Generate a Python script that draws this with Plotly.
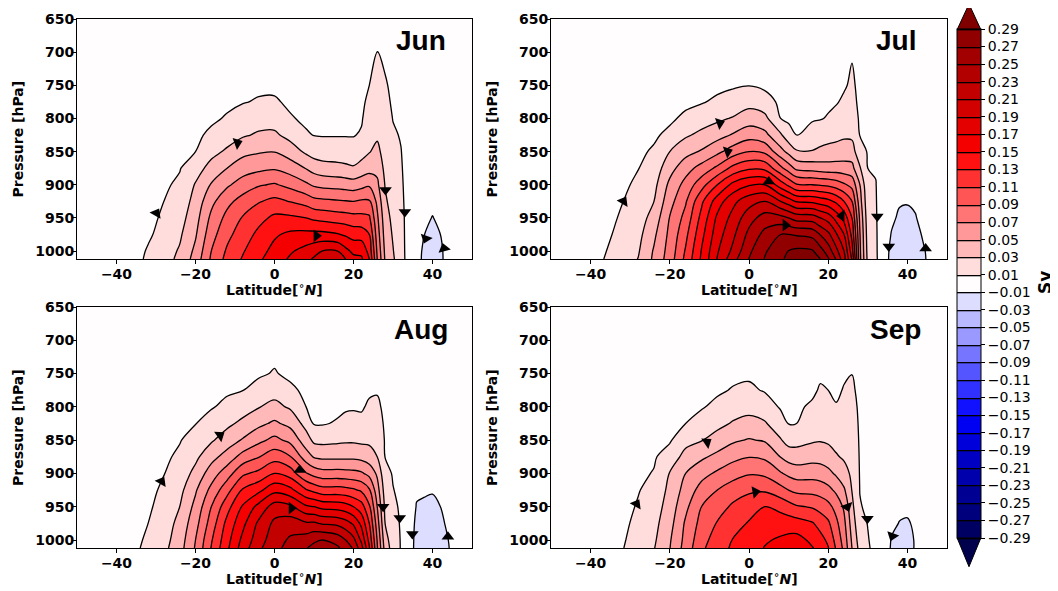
import numpy as np
import plotly.graph_objects as go

# ---------------- data (stream function, in units of 0.01 Sv) ----------------
LATS = [-50, -40, -36, -32, -28, -24, -20, -16, -12, -8, -4, 0, 4, 8, 10, 12, 16, 18, 20,
        22, 24, 26, 28, 30, 32, 34, 36, 38, 40, 42, 44, 46, 50]
PRESSURE = [650, 700, 750, 775, 800, 825, 850, 875, 900, 925, 950, 975, 1000, 1012]
MONTHS = ["Jun", "Jul", "Aug", "Sep"]

# one profile (top -> surface) per latitude in LATS
JUN = [
    [0, 0, 0, 0, 0, 0, 0, 0, 0, 0, 0, 0, 0, 0],
    [0, 0, 0, 0, 0, 0, 0, 0, 0, 0, 0, 0, 0, 0],
    [0, 0, 0, 0, 0, 0, 0, 0, 0, 0, 0, 0.05, 0.08, 0.1],
    [0, 0, 0, 0, 0, 0, 0, 0, 0.1, 0.2, 0.4, 0.7, 1.2, 1.4],
    [0, 0, 0, 0, 0.05, 0.15, 0.3, 0.5, 0.75, 1.0, 1.35, 1.7, 2.1, 2.3],
    [0, 0, 0, 0.05, 0.15, 0.35, 0.6, 0.9, 1.3, 1.75, 2.2, 2.7, 3.2, 3.4],
    [0, 0, 0.04, 0.12, 0.3, 0.6, 1.0, 2.16, 3.15, 3.7, 4.24, 4.78, 5.45, 5.8],
    [0, 0.05, 0.2, 0.4, 0.65, 1.41, 2.43, 3.67, 5.16, 6.47, 7.46, 8.23, 9.0, 9.3],
    [0, 0.1, 0.35, 0.6, 1.2, 2.18, 3.28, 5.0, 6.67, 8.43, 9.6, 10.47, 11.27, 11.6],
    [0, 0.2, 0.55, 0.9, 1.83, 2.77, 4.46, 6.09, 7.91, 9.79, 11.17, 12.0, 12.83, 13.2],
    [0, 0.25, 0.65, 1.16, 2.16, 3.25, 4.81, 6.52, 8.8, 10.84, 12.39, 13.49, 14.31, 14.7],
    [0, 0.25, 0.65, 1.2, 2.2, 3.32, 4.94, 6.78, 9.19, 11.52, 13.42, 14.74, 15.56, 15.9],
    [0, 0.15, 0.45, 0.7, 1.15, 2.37, 4.0, 6.08, 8.4, 10.9, 13.38, 15.42, 16.74, 17.3],
    [0, 0.1, 0.3, 0.45, 0.7, 1.18, 2.65, 4.9, 7.35, 10.22, 13.0, 15.57, 17.73, 18.6],
    [0, 0.05, 0.25, 0.4, 0.65, 0.95, 2.1, 4.2, 6.7, 9.6, 12.6, 15.6, 18.4, 19.2],
    [0, 0.05, 0.25, 0.4, 0.6, 0.9, 2.0, 3.8, 6.44, 9.44, 12.38, 15.57, 19.0, 19.6],
    [0, 0.05, 0.25, 0.4, 0.6, 0.9, 1.94, 3.57, 6.25, 9.21, 12.0, 15.14, 19.0, 19.4],
    [0, 0.05, 0.25, 0.4, 0.6, 0.9, 1.9, 3.4, 6.1, 9.1, 11.9, 14.7, 17.6, 19.0],
    [0, 0.05, 0.25, 0.4, 0.6, 0.9, 1.85, 3.2, 5.93, 9.0, 11.67, 14.2, 16.5, 17.6],
    [0, 0.1, 0.4, 0.55, 0.8, 1.2, 2.28, 3.7, 6.33, 9.26, 11.59, 14.13, 16.5, 17.3],
    [0, 0.4, 1.0, 1.5, 2.0, 2.45, 2.9, 4.2, 6.7, 9.26, 11.33, 13.0, 14.3, 15.0],
    [0, 1.05, 1.5, 1.8, 2.2, 2.7, 3.5, 4.43, 5.44, 6.56, 7.39, 8.04, 8.7, 9.0],
    [0, 0.6, 1.2, 1.45, 1.7, 1.95, 2.2, 2.5, 2.9, 3.3, 3.8, 4.2, 4.6, 4.8],
    [0, 0.3, 0.6, 0.75, 0.95, 1.2, 1.45, 1.7, 1.95, 2.2, 2.5, 2.8, 3.1, 3.3],
    [0, 0.2, 0.45, 0.6, 0.75, 0.9, 1.05, 1.15, 1.25, 1.35, 1.45, 1.5, 1.55, 1.6],
    [0, 0.05, 0.15, 0.2, 0.25, 0.3, 0.33, 0.35, 0.37, 0.38, 0.4, 0.4, 0.4, 0.4],
    [0, 0, 0, 0, 0, 0, 0, 0, 0, -0.05, -0.1, -0.2, -0.3, -0.3],
    [0, 0, 0, 0, 0, 0, 0, 0, -0.1, -0.4, -0.7, -1.0, -1.4, -1.5],
    [0, 0, 0, 0, 0, 0, 0, -0.1, -0.3, -0.7, -1.05, -1.4, -1.7, -1.8],
    [0, 0, 0, 0, 0, 0, 0, 0, -0.1, -0.35, -0.7, -1.0, -1.3, -1.35],
    [0, 0, 0, 0, 0, 0, 0, 0, 0, 0, -0.1, -0.2, -0.3, -0.3],
    [0, 0, 0, 0, 0, 0, 0, 0, 0, 0, 0, 0, 0, 0],
    [0, 0, 0, 0, 0, 0, 0, 0, 0, 0, 0, 0, 0, 0],
]

JUL = [
    [0, 0, 0, 0, 0, 0, 0, 0, 0, 0, 0, 0, 0, 0],
    [0, 0, 0, 0, 0, 0, 0, 0, 0, 0, 0.1, 0.15, 0.25, 0.3],
    [0, 0, 0, 0, 0, 0, 0.05, 0.1, 0.2, 0.3, 0.45, 0.7, 1.0, 1.14],
    [0, 0, 0, 0.05, 0.1, 0.2, 0.35, 0.5, 0.7, 0.95, 1.25, 1.55, 1.9, 2.1],
    [0, 0, 0.07, 0.15, 0.3, 0.45, 0.7, 0.95, 1.3, 1.65, 2.0, 2.4, 2.8, 3.05],
    [0, 0.02, 0.1, 0.25, 0.45, 0.75, 1.2, 1.85, 2.4, 3.0, 3.8, 4.6, 5.2, 5.35],
    [0, 0.05, 0.2, 0.4, 0.7, 1.4, 3.0, 4.25, 5.5, 6.3, 7.1, 7.5, 7.8, 8.0],
    [0, 0.1, 0.35, 0.6, 1.38, 2.73, 4.33, 6.2, 7.67, 8.78, 9.67, 10.5, 11.2, 11.5],
    [0, 0.15, 0.45, 0.85, 2.08, 3.47, 5.2, 7.74, 10.2, 12.6, 13.6, 14.4, 15.1, 15.3],
    [0, 0.2, 0.55, 1.35, 2.6, 4.26, 6.5, 9.43, 13.0, 16.0, 17.4, 18.1, 18.8, 19.1],
    [0, 0.25, 0.8, 1.72, 3.16, 5.2, 8.0, 11.6, 15.6, 18.5, 19.7, 20.6, 21.5, 22.3],
    [0, 0.3, 0.95, 2.33, 3.98, 6.2, 9.0, 12.7, 16.8, 20.2, 22.2, 23.55, 24.6, 25.05],
    [0, 0.2, 0.6, 1.84, 3.5, 5.56, 8.6, 12.5, 17.0, 21.0, 23.9, 25.6, 26.8, 27.1],
    [0, 0.1, 0.4, 0.6, 1.0, 3.26, 5.67, 9.5, 14.0, 19.0, 23.67, 27.0, 28.2, 28.7],
    [0, 0.05, 0.25, 0.4, 0.65, 1.8, 4.43, 8.0, 12.6, 18.0, 23.0, 27.0, 29.05, 29.4],
    [0, 0.05, 0.2, 0.35, 0.55, 0.9, 3.22, 6.5, 11.2, 16.8, 22.2, 26.8, 29.4, 30.0],
    [0, 0.1, 0.35, 0.55, 0.8, 1.8, 3.1, 6.2, 11.0, 16.6, 22.0, 26.4, 29.2, 29.8],
    [0, 0.1, 0.4, 0.6, 0.9, 2.05, 3.4, 6.0, 10.8, 16.1, 21.0, 24.9, 27.8, 29.0],
    [0, 0.15, 0.45, 0.7, 1.14, 2.27, 3.62, 5.83, 10.6, 15.6, 20.2, 23.5, 26.1, 27.2],
    [0, 0.2, 0.55, 0.85, 1.6, 2.5, 3.7, 5.9, 10.1, 14.6, 18.3, 21.3, 23.6, 24.9],
    [0, 0.4, 0.8, 1.3, 2.0, 2.7, 3.9, 5.8, 9.3, 13.0, 16.3, 19.0, 21.0, 21.7],
    [0, 0.85, 1.3, 1.5, 1.8, 2.6, 3.9, 5.6, 8.4, 11.0, 13.0, 14.4, 15.9, 16.8],
    [0, 0.3, 0.55, 0.65, 0.8, 0.95, 1.6, 3.2, 5.0, 5.8, 6.6, 7.1, 7.35, 7.5],
    [0, 0.2, 0.4, 0.5, 0.6, 0.75, 0.9, 1.0, 1.3, 1.6, 1.9, 2.15, 2.35, 2.5],
    [0, 0.15, 0.3, 0.4, 0.5, 0.6, 0.75, 0.9, 1.05, 1.1, 1.15, 1.2, 1.22, 1.25],
    [0, 0.05, 0.1, 0.1, 0.12, 0.15, 0.15, 0.15, 0.15, 0.1, 0.05, 0, 0, 0],
    [0, 0, 0, 0, 0, 0, 0, 0, -0.2, -0.4, -0.7, -1.1, -1.5, -1.6],
    [0, 0, 0, 0, 0, 0, 0, -0.2, -0.5, -0.85, -1.25, -1.6, -1.9, -2.0],
    [0, 0, 0, 0, 0, 0, -0.05, -0.2, -0.5, -0.9, -1.35, -1.75, -2.0, -2.05],
    [0, 0, 0, 0, 0, 0, 0, -0.1, -0.4, -0.75, -1.1, -1.45, -1.7, -1.75],
    [0, 0, 0, 0, 0, 0, 0, 0, -0.05, -0.2, -0.5, -0.85, -1.15, -1.2],
    [0, 0, 0, 0, 0, 0, 0, 0, 0, 0, -0.1, -0.3, -0.55, -0.6],
    [0, 0, 0, 0, 0, 0, 0, 0, 0, 0, 0, 0, 0, 0],
]

AUG = [
    [0, 0, 0, 0, 0, 0, 0, 0, 0, 0, 0, 0, 0, 0],
    [0, 0, 0, 0, 0, 0, 0, 0, 0, 0, 0, 0, 0, 0],
    [0, 0, 0, 0, 0, 0, 0, 0.03, 0.08, 0.15, 0.25, 0.35, 0.45, 0.5],
    [0, 0, 0, 0, 0.03, 0.08, 0.15, 0.25, 0.4, 0.55, 0.75, 1.0, 1.3, 1.5],
    [0, 0, 0.03, 0.08, 0.17, 0.3, 0.5, 0.7, 0.95, 1.3, 1.6, 1.95, 2.3, 2.5],
    [0, 0.05, 0.2, 0.35, 0.55, 0.75, 0.9, 1.3, 1.86, 2.43, 3.0, 3.6, 4.0, 4.2],
    [0, 0.1, 0.3, 0.5, 0.75, 0.95, 1.73, 2.57, 3.57, 4.76, 5.57, 6.29, 7.0, 7.2],
    [0, 0.15, 0.4, 0.6, 0.85, 1.76, 2.76, 4.31, 6.0, 7.57, 9.0, 9.9, 10.8, 11.1],
    [0, 0.2, 0.5, 0.75, 1.44, 2.56, 3.97, 5.82, 8.09, 10.3, 12.26, 13.6, 14.3, 14.6],
    [0, 0.25, 0.6, 0.97, 2.14, 3.47, 5.2, 7.78, 10.65, 13.26, 15.25, 16.5, 17.55, 18.0],
    [0, 0.3, 0.75, 1.65, 2.9, 4.53, 6.5, 8.9, 11.53, 14.5, 17.63, 19.4, 20.1, 20.6],
    [0, 0.3, 1.13, 2.24, 3.55, 5.33, 7.53, 10.16, 13.0, 16.4, 19.9, 21.44, 22.1, 22.4],
    [0, 0.2, 0.6, 1.38, 2.73, 4.43, 6.48, 9.11, 12.07, 15.57, 19.4, 22.1, 23.3, 23.7],
    [0, 0.1, 0.4, 0.6, 1.0, 2.32, 3.89, 5.95, 9.15, 13.17, 17.33, 21.3, 24.0, 24.9],
    [0, 0.05, 0.25, 0.4, 0.6, 0.85, 2.57, 4.82, 8.23, 12.45, 17.0, 21.3, 24.7, 25.5],
    [0, 0.05, 0.2, 0.35, 0.55, 0.85, 2.44, 4.57, 7.77, 11.83, 16.45, 20.83, 25.0, 26.0],
    [0, 0.05, 0.25, 0.4, 0.65, 1.17, 2.6, 4.57, 7.77, 11.83, 16.2, 20.5, 24.2, 25.3],
    [0, 0.1, 0.3, 0.5, 0.75, 1.58, 2.69, 4.57, 7.67, 11.67, 15.83, 19.83, 23.0, 24.0],
    [0, 0.1, 0.35, 0.55, 0.8, 1.7, 2.7, 4.57, 7.57, 11.3, 15.0, 18.7, 21.53, 22.8],
    [0, 0.1, 0.35, 0.55, 0.8, 1.44, 2.56, 4.36, 7.29, 10.7, 13.9, 16.5, 18.6, 19.8],
    [0, 0.2, 0.5, 0.75, 1.27, 1.93, 2.6, 3.87, 6.4, 9.26, 11.3, 13.0, 14.4, 15.2],
    [0, 0.3, 0.6, 0.85, 1.33, 1.89, 2.44, 3.0, 4.67, 5.9, 7.0, 8.0, 8.9, 9.2],
    [0, 0.2, 0.4, 0.5, 0.6, 0.7, 0.85, 0.97, 1.5, 2.1, 2.6, 3.0, 3.8, 4.2],
    [0, 0.1, 0.25, 0.35, 0.45, 0.55, 0.65, 0.75, 0.88, 1.05, 1.3, 1.6, 1.9, 2.1],
    [0, 0.05, 0.15, 0.2, 0.3, 0.35, 0.4, 0.45, 0.5, 0.7, 0.8, 0.85, 0.9, 0.9],
    [0, 0, 0.05, 0.05, 0.05, 0.05, 0.05, 0.05, 0.05, 0.05, 0.05, 0, 0, 0],
    [0, 0, 0, 0, 0, 0, 0, -0.05, -0.3, -0.75, -1.1, -1.4, -1.6, -1.65],
    [0, 0, 0, 0, 0, 0, 0, -0.1, -0.45, -0.85, -1.2, -1.5, -1.8, -1.85],
    [0, 0, 0, 0, 0, 0, -0.02, -0.15, -0.5, -0.9, -1.3, -1.65, -1.9, -1.95],
    [0, 0, 0, 0, 0, 0, 0, -0.05, -0.3, -0.65, -1.0, -1.35, -1.55, -1.6],
    [0, 0, 0, 0, 0, 0, 0, 0, 0, -0.1, -0.35, -0.7, -1.0, -1.1],
    [0, 0, 0, 0, 0, 0, 0, 0, 0, 0, 0, -0.1, -0.2, -0.2],
    [0, 0, 0, 0, 0, 0, 0, 0, 0, 0, 0, 0, 0, 0],
]

SEP = [
    [0, 0, 0, 0, 0, 0, 0, 0, 0, 0, 0, 0, 0, 0],
    [0, 0, 0, 0, 0, 0, 0, 0, 0, 0, 0, 0, 0, 0],
    [0, 0, 0, 0, 0, 0, 0, 0, 0, 0, 0.02, 0.05, 0.08, 0.1],
    [0, 0, 0, 0, 0, 0, 0.05, 0.1, 0.2, 0.3, 0.45, 0.6, 0.8, 0.9],
    [0, 0, 0, 0.03, 0.07, 0.15, 0.3, 0.45, 0.65, 0.9, 1.15, 1.45, 1.7, 1.9],
    [0, 0, 0.04, 0.1, 0.2, 0.35, 0.55, 0.8, 1.1, 1.6, 2.0, 2.4, 2.7, 2.9],
    [0, 0.02, 0.1, 0.2, 0.35, 0.55, 0.8, 1.86, 3.1, 3.5, 3.9, 4.3, 4.8, 4.95],
    [0, 0.1, 0.3, 0.5, 0.7, 1.0, 2.35, 3.68, 5.0, 5.77, 6.54, 7.3, 7.6, 7.8],
    [0, 0.1, 0.4, 0.6, 0.85, 1.71, 2.9, 4.64, 6.33, 7.75, 9.0, 9.65, 10.3, 10.6],
    [0, 0.15, 0.5, 0.75, 1.42, 2.46, 3.8, 5.52, 7.33, 9.0, 10.1, 11.14, 11.86, 12.2],
    [0, 0.2, 0.65, 1.12, 2.12, 3.18, 4.7, 6.43, 8.26, 10.0, 11.36, 12.27, 13.1, 13.3],
    [0, 0.2, 0.7, 1.33, 2.38, 3.6, 5.14, 6.93, 8.85, 10.64, 12.25, 13.16, 13.6, 14.0],
    [0, 0.15, 0.55, 0.85, 1.95, 3.19, 4.81, 6.63, 8.6, 10.74, 13.0, 14.1, 14.75, 15.1],
    [0, 0.1, 0.35, 0.55, 0.8, 1.85, 3.14, 4.93, 7.2, 9.74, 12.44, 14.0, 15.3, 16.0],
    [0, 0.05, 0.25, 0.45, 0.7, 0.95, 2.25, 4.18, 6.52, 9.0, 11.82, 14.0, 15.6, 16.3],
    [0, 0.05, 0.25, 0.45, 0.7, 1.0, 2.32, 3.96, 6.09, 8.5, 11.24, 13.87, 15.7, 16.4],
    [0, 0.1, 0.4, 0.65, 1.29, 2.03, 2.76, 4.26, 6.2, 8.36, 10.8, 13.17, 14.56, 15.1],
    [0, 0.2, 0.7, 1.2, 1.77, 2.32, 2.87, 4.23, 6.04, 8.13, 10.3, 12.26, 13.7, 14.4],
    [0, 0.15, 0.5, 1.0, 1.57, 2.15, 2.72, 3.84, 5.56, 7.58, 9.62, 11.35, 12.6, 13.1],
    [0, 0.1, 0.4, 0.65, 1.13, 1.78, 2.43, 3.18, 4.7, 6.6, 8.33, 9.5, 10.35, 10.8],
    [0, 0.3, 0.75, 1.13, 1.54, 1.94, 2.35, 2.76, 3.67, 5.29, 6.71, 7.53, 8.18, 8.5],
    [0, 0.6, 0.98, 1.26, 1.54, 1.82, 2.1, 2.38, 2.66, 2.94, 3.5, 4.1, 4.7, 5.0],
    [0, 0.3, 0.5, 0.6, 0.7, 0.75, 0.8, 0.85, 0.9, 0.96, 1.1, 1.5, 2.0, 2.3],
    [0, 0.1, 0.2, 0.25, 0.3, 0.35, 0.4, 0.45, 0.5, 0.6, 0.75, 0.95, 1.1, 1.2],
    [0, 0.05, 0.1, 0.12, 0.15, 0.17, 0.2, 0.22, 0.25, 0.3, 0.35, 0.4, 0.45, 0.5],
    [0, 0, 0, 0, 0, 0, 0, 0, 0, 0, 0, 0, 0, 0],
    [0, 0, 0, 0, 0, 0, 0, 0, 0, 0, -0.3, -0.7, -1.1, -1.2],
    [0, 0, 0, 0, 0, 0, 0, 0, 0, -0.2, -0.7, -1.05, -1.35, -1.4],
    [0, 0, 0, 0, 0, 0, 0, 0, 0, -0.3, -0.8, -1.1, -1.4, -1.45],
    [0, 0, 0, 0, 0, 0, 0, 0, -0.1, -0.35, -0.6, -0.85, -0.9, -0.9],
    [0, 0, 0, 0, 0, 0, 0, 0, 0, 0, 0, 0, 0, 0],
    [0, 0, 0, 0, 0, 0, 0, 0, 0, 0, 0, 0, 0, 0],
    [0, 0, 0, 0, 0, 0, 0, 0, 0, 0, 0, 0, 0, 0],
]

# flow-direction arrows on the streamlines (lat, pressure, heading in degrees clockwise from up)
JUN_ARROW_LAT = [-29.9, -9.4, 10.6, 28.1, 33.0, 38.3, 42.9]
JUN_ARROW_P = [943, 837, 977, 908, 941, 981, 996]
JUN_ARROW_DIR = [30, 70, 90, 180, 180, 200, -15]

JUL_ARROW_LAT = [-31.7, -7.4, -5.4, 5.0, 9.2, 23.4, 32.4, 35.3, 44.6]
JUL_ARROW_P = [925, 807, 850, 895, 961, 947, 948, 993, 996]
JUL_ARROW_DIR = [30, 70, 70, 0, 90, 270, 180, 180, 0]

AUG_ARROW_LAT = [-28.6, -13.8, 6.4, 4.3, 27.5, 31.7, 34.9, 43.9]
AUG_ARROW_P = [912, 843, 895, 952, 950, 967, 991, 995]
AUG_ARROW_DIR = [30, 55, 0, 90, 180, 180, 180, 0]

SEP_ARROW_LAT = [-28.4, -10.6, 1.6, 24.8, 29.9, 36.2]
SEP_ARROW_P = [946, 853, 928, 950, 968, 994]
SEP_ARROW_DIR = [30, 55, 80, 160, 180, 200]

LEVELS = list(range(-29, 30, 2))          # contour levels, 0.01 Sv units
LEVEL_TEXT = [("%.2f" % (v / 100.0)).replace("-", "\u2212") for v in LEVELS]
X_TICKS = [-40, -20, 0, 20, 40]
Y_TICKS = [650, 700, 750, 800, 850, 900, 950, 1000]

# ---------------- styling ----------------
# the page body has an 8 px margin, so the figure is drawn 8 px in from the window corner
OFF = 8
W, H = 1058 - OFF, 591 - OFF


def seismic(t):
    idx = min(int(t * 256), 255)
    x = idx / 255.0
    r = np.interp(x, [0, 0.25, 0.5, 0.75, 1], [0, 0, 1, 1, 0.5])
    g = np.interp(x, [0, 0.25, 0.5, 0.75, 1], [0, 0, 1, 0, 0])
    b = np.interp(x, [0, 0.25, 0.5, 0.75, 1], [0.3, 1, 1, 0, 0])
    return "rgb(%d,%d,%d)" % (round(r * 255), round(g * 255), round(b * 255))


# colour scale over [-29, 29]: band midpoints get the discrete seismic colours
cscale = [[0.0, seismic(0.0)]]
for m in range(-28, 29, 2):
    k = (m + 30) // 2
    cscale.append([(m + 29) / 58.0, seismic(k / 30.0)])
cscale.append([1.0, seismic(1.0)])


def px(v):  # window pixel x -> paper fraction
    return (v - OFF) / W


def py(v):  # window pixel y -> paper fraction
    return 1 - (v - OFF) / H


panels = [
    dict(xd=[px(77), px(472)], yd=[py(259), py(19)]),
    dict(xd=[px(551), px(947)], yd=[py(259), py(19)]),
    dict(xd=[px(77), px(472)], yd=[py(548), py(307)]),
    dict(xd=[px(551), px(947)], yd=[py(548), py(307)]),
]
panel_px = [(77, 472, 19, 259), (551, 947, 19, 259), (77, 472, 307, 548), (551, 947, 307, 548)]
fields = [JUN, JUL, AUG, SEP]
arrows = [(JUN_ARROW_LAT, JUN_ARROW_P, JUN_ARROW_DIR), (JUL_ARROW_LAT, JUL_ARROW_P, JUL_ARROW_DIR),
          (AUG_ARROW_LAT, AUG_ARROW_P, AUG_ARROW_DIR), (SEP_ARROW_LAT, SEP_ARROW_P, SEP_ARROW_DIR)]

tickfont = dict(family="DejaVu Sans", size=14, color="black", weight="bold")

fig = go.Figure()
layout = dict(width=W, height=H, margin=dict(l=0, r=0, t=0, b=0, autoexpand=False),
              paper_bgcolor="white", plot_bgcolor="white", showlegend=False)
annotations = []

for i, (pn, f, arr) in enumerate(zip(panels, fields, arrows)):
    xa = "x" if i == 0 else "x%d" % (i + 1)
    ya = "y" if i == 0 else "y%d" % (i + 1)
    z = np.array(f, dtype=float).T
    tr = go.Contour(
        x=LATS, y=PRESSURE, z=z, xaxis=xa, yaxis=ya,
        zmin=-29, zmax=29, autocontour=False,
        contours=dict(start=-29, end=29, size=2, coloring="fill", showlines=True),
        line=dict(color="black", width=1.3, smoothing=1),
        colorscale=cscale, hoverinfo="skip",
        showscale=(i == 0),
    )
    if i == 0:
        tr.colorbar = dict(
            x=px(957), xanchor="left", xpad=0,
            y=py((29 + 538) / 2.0), yanchor="middle", ypad=0,
            len=509, lenmode="pixels", thickness=24, thicknessmode="pixels",
            outlinewidth=1, outlinecolor="black",
            tickmode="array", tickvals=LEVELS, ticktext=LEVEL_TEXT,
            ticks="outside", ticklen=4, tickcolor="black", tickwidth=1,
            tickfont=dict(family="DejaVu Sans", size=14, color="black"),
        )
    fig.add_trace(tr)
    fig.add_trace(go.Scatter(
        x=arr[0], y=arr[1], xaxis=xa, yaxis=ya, mode="markers", hoverinfo="skip",
        marker=dict(symbol="triangle-up", size=11, color="black", angle=arr[2],
                    line=dict(width=0)),
    ))
    xkey = "xaxis" if i == 0 else "xaxis%d" % (i + 1)
    ykey = "yaxis" if i == 0 else "yaxis%d" % (i + 1)
    layout[xkey] = dict(domain=pn["xd"], anchor=ya, range=[-50, 50], tickvals=X_TICKS,
                        ticks="outside", ticklen=4, tickwidth=1, tickcolor="black",
                        showline=True, mirror=True, linecolor="black", linewidth=1,
                        showgrid=False, zeroline=False, tickfont=tickfont)
    layout[ykey] = dict(domain=pn["yd"], anchor=xa, range=[1012, 650], tickvals=Y_TICKS,
                        ticks="outside", ticklen=4, tickwidth=1, tickcolor="black",
                        showline=True, mirror=True, linecolor="black", linewidth=1,
                        showgrid=False, zeroline=False, tickfont=tickfont)
    L, R, T, B = panel_px[i]
    # month label
    annotations.append(dict(text=MONTHS[i], xref="paper", yref="paper",
                            x=px(L + 0.871 * (R - L)), y=py(T + 22),
                            xanchor="center", yanchor="middle", showarrow=False,
                            font=dict(family="Liberation Sans", size=28, color="black", weight="bold")))
    # axis titles
    annotations.append(dict(text="Pressure [hPa]", xref="paper", yref="paper",
                            x=px(L - 59.5), y=py((T + B) / 2.0), textangle=-90,
                            xanchor="center", yanchor="middle", showarrow=False,
                            font=dict(family="DejaVu Sans", size=14, color="black", weight="bold")))
    annotations.append(dict(text="Latitude[<sup>\u2218</sup><i>N</i>]", xref="paper", yref="paper",
                            x=px((L + R) / 2.0), y=py(B + 30), xanchor="center", yanchor="middle",
                            showarrow=False,
                            font=dict(family="DejaVu Sans", size=14, color="black", weight="bold")))

# colour bar label
annotations.append(dict(text="Sv", xref="paper", yref="paper", x=px(1045), y=py(283),
                        textangle=-90, xanchor="center", yanchor="middle", showarrow=False,
                        font=dict(family="DejaVu Sans", size=17, color="black", weight="bold")))

# colour bar extension triangles
shapes = [
    dict(type="path", xref="paper", yref="paper",
         path="M %f %f L %f %f L %f %f Z" % (px(957.3), py(29.3), px(980.7), py(29.3), px(969), py(4)),
         fillcolor=seismic(1.0), line=dict(color="black", width=1)),
    dict(type="path", xref="paper", yref="paper",
         path="M %f %f L %f %f L %f %f Z" % (px(957.3), py(538.3), px(980.7), py(538.3), px(969), py(566.7)),
         fillcolor=seismic(0.0), line=dict(color="black", width=1)),
]

layout["annotations"] = annotations
layout["shapes"] = shapes
fig.update_layout(**layout)

# bring the tick labels a little closer to the axes, as in the reference
try:
    fig.update_yaxes(ticklabelstandoff=-5)
    fig.update_xaxes(ticklabelstandoff=-2)
except Exception:
    pass

fig.write_html("out.html")
